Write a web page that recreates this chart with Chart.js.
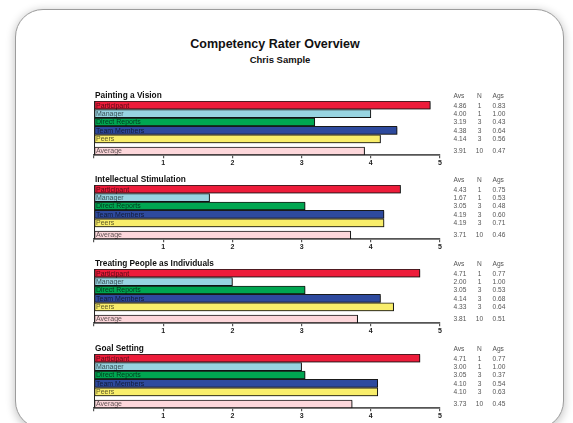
<!DOCTYPE html>
<html><head><meta charset="utf-8">
<script src="https://cdn.jsdelivr.net/npm/chart.js@4.4.1/dist/chart.umd.min.js"></script>
<style>
html,body{margin:0;padding:0;background:#fff;width:573px;height:423px;overflow:hidden;font-family:'Liberation Sans',Arial,sans-serif;}
#card{position:absolute;left:15px;top:9px;width:547px;height:418px;border:1.5px solid #9c9c9c;border-radius:28px;background:#fff;box-shadow:0 2px 8px 1px rgba(0,0,0,0.22);}
.t{position:absolute;font-weight:bold;color:#111;white-space:nowrap;text-align:center;}
.panel{position:absolute;left:80px;width:450px;height:84px;}
canvas{display:block;}
</style></head><body>
<div id="card"></div>
<div class="t" style="left:125px;width:300px;top:37.7px;font-size:12.5px;line-height:12.5px">Competency Rater Overview</div>
<div class="t" style="left:130px;width:300px;top:55.3px;font-size:9.5px;line-height:9.5px">Chris Sample</div>
<div class="panel" style="top:85px"><canvas id="c0" width="450" height="84"></canvas></div>
<div class="panel" style="top:169.2px"><canvas id="c1" width="450" height="84"></canvas></div>
<div class="panel" style="top:253.4px"><canvas id="c2" width="450" height="84"></canvas></div>
<div class="panel" style="top:337.6px"><canvas id="c3" width="450" height="84"></canvas></div>
<script>
// ---- data ----
const raters = ['Participant', 'Manager', 'Direct Reports', 'Team Members', 'Peers', 'Average'];
const competencies = ['Painting a Vision', 'Intellectual Stimulation', 'Treating People as Individuals', 'Goal Setting'];
const statHeaders = ['Avs', 'N', 'Ags'];
const xTickValues = [1, 2, 3, 4, 5];
const raterCounts = [1, 1, 3, 3, 3, 10];

const avsPaintingVision = [4.86, 4.00, 3.19, 4.38, 4.14, 3.91];
const agsPaintingVision = [0.83, 1.00, 0.43, 0.64, 0.56, 0.47];
const avsIntellectual   = [4.43, 1.67, 3.05, 4.19, 4.19, 3.71];
const agsIntellectual   = [0.75, 0.53, 0.48, 0.60, 0.71, 0.46];
const avsIndividuals    = [4.71, 2.00, 3.05, 4.14, 4.33, 3.81];
const agsIndividuals    = [0.77, 1.00, 0.53, 0.68, 0.64, 0.51];
const avsGoalSetting    = [4.71, 3.00, 3.05, 4.10, 4.10, 3.73];
const agsGoalSetting    = [0.77, 1.00, 0.37, 0.54, 0.63, 0.45];

const avsSets = [avsPaintingVision, avsIntellectual, avsIndividuals, avsGoalSetting];
const agsSets = [agsPaintingVision, agsIntellectual, agsIndividuals, agsGoalSetting];

// ---- style ----
const raterColors = ['#ED1C3A', '#98D4E1', '#00A651', '#2E4A9E', '#F9EE6B', '#FDD7DB'];
const FONT = "'Liberation Sans', Arial, sans-serif";
Chart.defaults.font.family = FONT;
const rowPos = i => (i < raters.length - 1 ? i : i + 0.45); // gap before Average
const Y_MIN = -0.5, Y_MAX = 5.95;

function makePlugin(k) {
  return {
    id: 'overlay' + k,
    beforeDatasetsDraw(chart) {
      const ctx = chart.ctx;
      ctx.save();
      ctx.shadowColor = 'rgba(0,0,0,0.3)';
      ctx.shadowOffsetX = 1;
      ctx.shadowOffsetY = 0.8;
      ctx.shadowBlur = 0.3;
    },
    afterDatasetsDraw(chart) {
      const ctx = chart.ctx;
      ctx.restore();
      const area = chart.chartArea;
      const meta = chart.getDatasetMeta(0);
      ctx.save();
      ctx.strokeStyle = '#222';
      ctx.lineWidth = 1;
      ctx.beginPath();
      ctx.moveTo(area.left + 0.5, area.top);
      ctx.lineTo(area.left + 0.5, area.bottom);
      ctx.stroke();
      ctx.fillStyle = '#111';
      ctx.font = 'bold 8.3px ' + FONT;
      ctx.textBaseline = 'alphabetic';
      ctx.textAlign = 'left';
      ctx.fillText(competencies[k], area.left + 1, 12.7);
      ctx.fillStyle = '#555';
      ctx.font = '6.6px ' + FONT;
      const colAvs = 373.5, colN = 399.5, colAgs = 412.5;
      ctx.textAlign = 'left';
      ctx.fillText(statHeaders[0], colAvs, 12.7);
      ctx.textAlign = 'center';
      ctx.fillText(statHeaders[1], colN, 12.7);
      ctx.textAlign = 'left';
      ctx.fillText(statHeaders[2], colAgs, 12.7);
      ctx.textBaseline = 'middle';
      meta.data.forEach((bar, i) => {
        const y = bar.y + 0.5;
        ctx.fillStyle = 'rgba(0,0,0,0.66)';
        ctx.font = '7px ' + FONT;
        ctx.textAlign = 'left';
        ctx.fillText(raters[i], area.left + 2, y);
        ctx.fillStyle = '#555';
        ctx.font = '6.6px ' + FONT;
        ctx.fillText(avsSets[k][i].toFixed(2), colAvs, y);
        ctx.textAlign = 'center';
        ctx.fillText(String(raterCounts[i]), colN, y);
        ctx.textAlign = 'left';
        ctx.fillText(agsSets[k][i].toFixed(2), colAgs, y);
      });
      ctx.restore();
    }
  };
}

avsSets.forEach((avs, k) => {
  new Chart(document.getElementById('c' + k), {
    type: 'bar',
    data: {
      datasets: [{
        data: avs.map((v, i) => ({ x: v, y: rowPos(i) })),
        backgroundColor: raterColors,
        borderColor: '#1a1a1a',
        borderWidth: 1,
        borderSkipped: false,
        barThickness: 8
      }]
    },
    options: {
      responsive: false,
      animation: false,
      indexAxis: 'y',
      layout: { padding: { left: 14, right: 90, top: 16, bottom: 0.4 } },
      plugins: { legend: { display: false }, tooltip: { enabled: false } },
      scales: {
        y: {
          type: 'linear', reverse: true, min: Y_MIN, max: Y_MAX, display: false,
          offset: false, grace: 0, bounds: 'data', beginAtZero: false,
          grid: { offset: false },
          afterDataLimits: s => { s.min = Y_MIN; s.max = Y_MAX; },
          afterBuildTicks: s => { s.min = Y_MIN; s.max = Y_MAX; }
        },
        x: {
          type: 'linear', min: 0, max: 5,
          afterBuildTicks: s => { s.ticks = [0].concat(xTickValues).map(v => ({ value: v })); },
          ticks: {
            padding: 1,
            color: '#222',
            font: { size: 7, weight: 'bold' },
            callback: v => (v === 0 ? '' : String(v))
          },
          grid: { display: true, drawOnChartArea: false, drawTicks: true, tickLength: 3, color: '#555', lineWidth: 1.2 },
          border: { display: true, color: '#555', width: 1.8 }
        }
      }
    },
    plugins: [makePlugin(k)]
  });
});
</script>
</body></html>
